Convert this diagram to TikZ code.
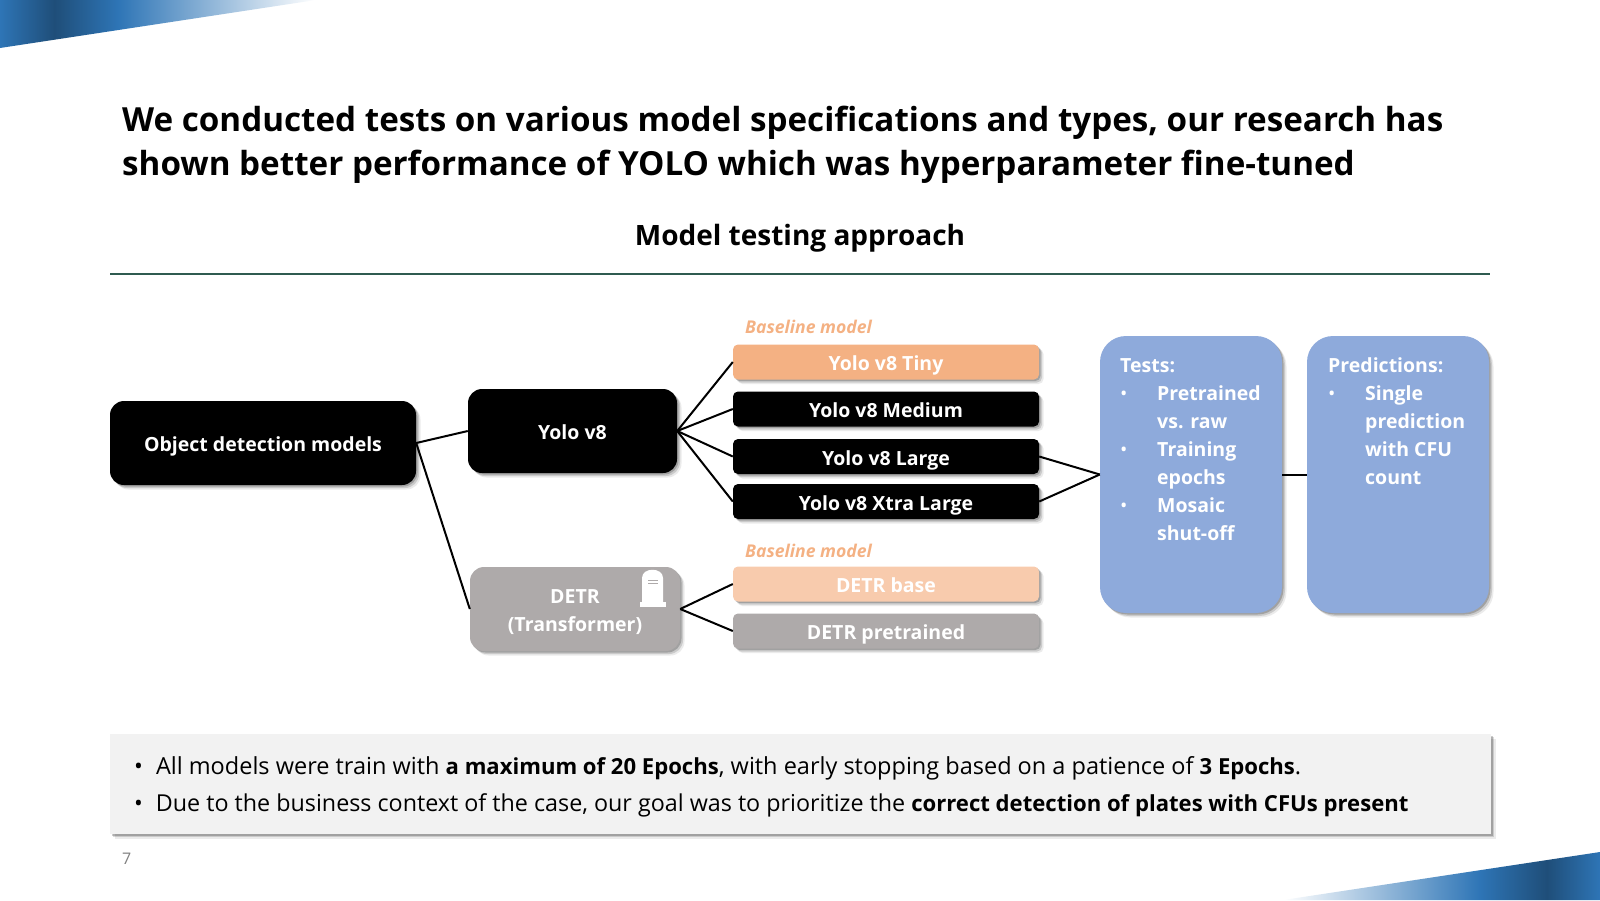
\documentclass[tikz,border=0pt]{standalone}
\usepackage{fontspec}
\setmainfont{Open Sans}
\usetikzlibrary{shadows}
\definecolor{ruleteal}{HTML}{2F5B50}
\definecolor{peach}{HTML}{F4B183}
\definecolor{lightpeach}{HTML}{F8CBAD}
\definecolor{stonegray}{HTML}{AEAAAA}
\definecolor{paleblue}{HTML}{8EAADB}
\definecolor{notegray}{HTML}{F2F2F2}
\definecolor{cornerblue}{HTML}{2E75B6}
\definecolor{cornerdark}{HTML}{1F4E79}
\pgfdeclarehorizontalshading{cornerleft}{100bp}{color(0bp)=(cornerblue); color(25bp)=(cornerblue); color(33.6bp)=(cornerdark); color(43.7bp)=(cornerblue); color(75bp)=(white); color(100bp)=(white)}
\pgfdeclarehorizontalshading{cornerright}{100bp}{color(0bp)=(white); color(25bp)=(white); color(56bp)=(cornerblue); color(66.6bp)=(cornerdark); color(75bp)=(cornerblue); color(100bp)=(cornerblue)}
\newcommand{\boxfont}{\fontsize{19.5}{28}\selectfont\bfseries}
\newcommand{\bulletline}{\makebox[37pt][l]{\normalfont•}}
\newcommand{\notebold}[1]{{\fontsize{22.1}{26}\selectfont\bfseries #1}}
\tikzset{
  softshadow/.style={
    drop shadow={shadow xshift=1.5pt,shadow yshift=-1.5pt,opacity=.2,fill=black},
    drop shadow={shadow xshift=3pt,shadow yshift=-3pt,opacity=.14,fill=black},
    drop shadow={shadow xshift=4.5pt,shadow yshift=-4.5pt,opacity=.08,fill=black}},
  oneline/.style={text=white,font=\boxfont,text height=20pt,text depth=3pt},
  modelbox/.style={rectangle,rounded corners=14pt,minimum width=#1,minimum height=84pt,inner sep=0pt,softshadow},
  leafbox/.style={rectangle,rounded corners=5pt,minimum width=306pt,minimum height=35pt,inner sep=0pt,softshadow,oneline},
  stagebox/.style={rectangle,rounded corners=26pt,fill=paleblue,minimum width=182pt,minimum height=277pt,inner sep=0pt,softshadow},
  stagetext/.style={anchor=north west,inner sep=0pt,text=white,font=\boxfont,align=left},
  baseline label/.style={anchor=base west,inner sep=0pt,text=peach,font=\fontsize{17.6}{22}\selectfont\bfseries\itshape},
  link/.style={line width=2pt,black},
  note/.style={anchor=base west,inner sep=0pt,font=\fontsize{#1}{26}\selectfont}
}
\begin{document}
\begin{tikzpicture}[x=1pt,y=-1pt]
\useasboundingbox (0,0) rectangle (1600,900);
% corners
\shade[shading=cornerleft] (0,0) -- (316,0) -- (0,48) -- cycle;
\shade[shading=cornerright] (1600,900) -- (1283,900) -- (1600,852) -- cycle;
% heading
\node[anchor=base west,inner sep=0pt,align=left,font=\fontsize{33.2}{44}\selectfont\bfseries] (heading) at (122,175) {We conducted tests on various model specifications and types, our research has\\shown better performance of YOLO which was hyperparameter fine-tuned};
\node[inner sep=0pt,font=\fontsize{28}{34}\selectfont\bfseries] (approach) at (800,238) {Model testing approach};
\draw[line width=2.4pt,ruleteal] (110,274) -- (1490,274);
% model boxes
\node[modelbox=306pt,oneline,fill=black] (odm) at (263,443) {Object detection models};
\node[modelbox=209pt,oneline,fill=black] (yolo) at (572.5,431) {Yolo v8};
\node[modelbox=210pt,fill=stonegray] (detr) at (575,609) {};
\node[inner sep=0pt,text=white,font=\boxfont,align=center] (detrtext) at (575,612) {DETR\\(Transformer)};
% leaves
\node[baseline label] (baseyolo) at (745,333) {Baseline model};
\node[leafbox,fill=peach] (tiny) at (886,362) {Yolo v8 Tiny};
\node[leafbox,fill=black] (medium) at (886,409) {Yolo v8 Medium};
\node[leafbox,fill=black] (large) at (886,456.5) {Yolo v8 Large};
\node[leafbox,fill=black] (xtra) at (886,501.5) {Yolo v8 Xtra Large};
\node[baseline label] (basedetr) at (745,557) {Baseline model};
\node[leafbox,fill=lightpeach] (base) at (886,584) {DETR base};
\node[leafbox,fill=stonegray] (pretrained) at (886,631) {DETR pretrained};
% stages
\node[stagebox] (tests) at (1191,474.5) {};
\node[stagebox] (pred) at (1398,474.5) {};
\node[stagetext] (teststext) at (1120,358) {Tests:\\\bulletline Pretrained\\\hspace*{37pt}vs. raw\\\bulletline Training\\\hspace*{37pt}epochs\\\bulletline Mosaic\\\hspace*{37pt}shut-off};
\node[stagetext] (predtext) at (1328,357.5) {Predictions:\\\bulletline Single\\\hspace*{37pt}prediction\\\hspace*{37pt}with CFU\\\hspace*{37pt}count};
% connectors
\draw[link] (odm.east) -- (yolo.west);
\draw[link] (odm.east) -- (detr.west);
\foreach \leaf in {tiny,medium,large,xtra}
  \draw[link] (yolo.east) -- (\leaf.west);
\foreach \leaf in {base,pretrained}
  \draw[link] (detr.east) -- (\leaf.west);
\draw[link] (large.east) -- (tests.west);
\draw[link] (xtra.east) -- (tests.west);
\draw[link] (tests.east) -- (pred.west);
% headstone
\fill[white] (642,602) -- (642,578) .. controls (642,567) and (663,567) .. (663,578) -- (663,602) -- cycle;
\fill[white] (640,602) rectangle (666,607);
\draw[stonegray,line width=1pt] (648,580) -- (658,580) (648,583.5) -- (658,583.5);
% note
\node[rectangle,fill=notegray,minimum width=1381pt,minimum height=100pt,inner sep=0pt,softshadow] (notebox) at (800.5,784) {};
\node[note=23.5] (noteone) at (134,774) {•\hspace{13pt}All models were train with \notebold{a maximum of 20 Epochs}, with early stopping based on a patience of \notebold{3 Epochs}.};
\node[note=23.3] (notetwo) at (134,811) {•\hspace{13pt}Due to the business context of the case, our goal was to prioritize the \notebold{correct detection of plates with CFUs present}};
\node[anchor=base west,inner sep=0pt,text=gray,font=\fontsize{16}{20}\selectfont] (pagenum) at (122,864) {7};
\end{tikzpicture}
\end{document}
